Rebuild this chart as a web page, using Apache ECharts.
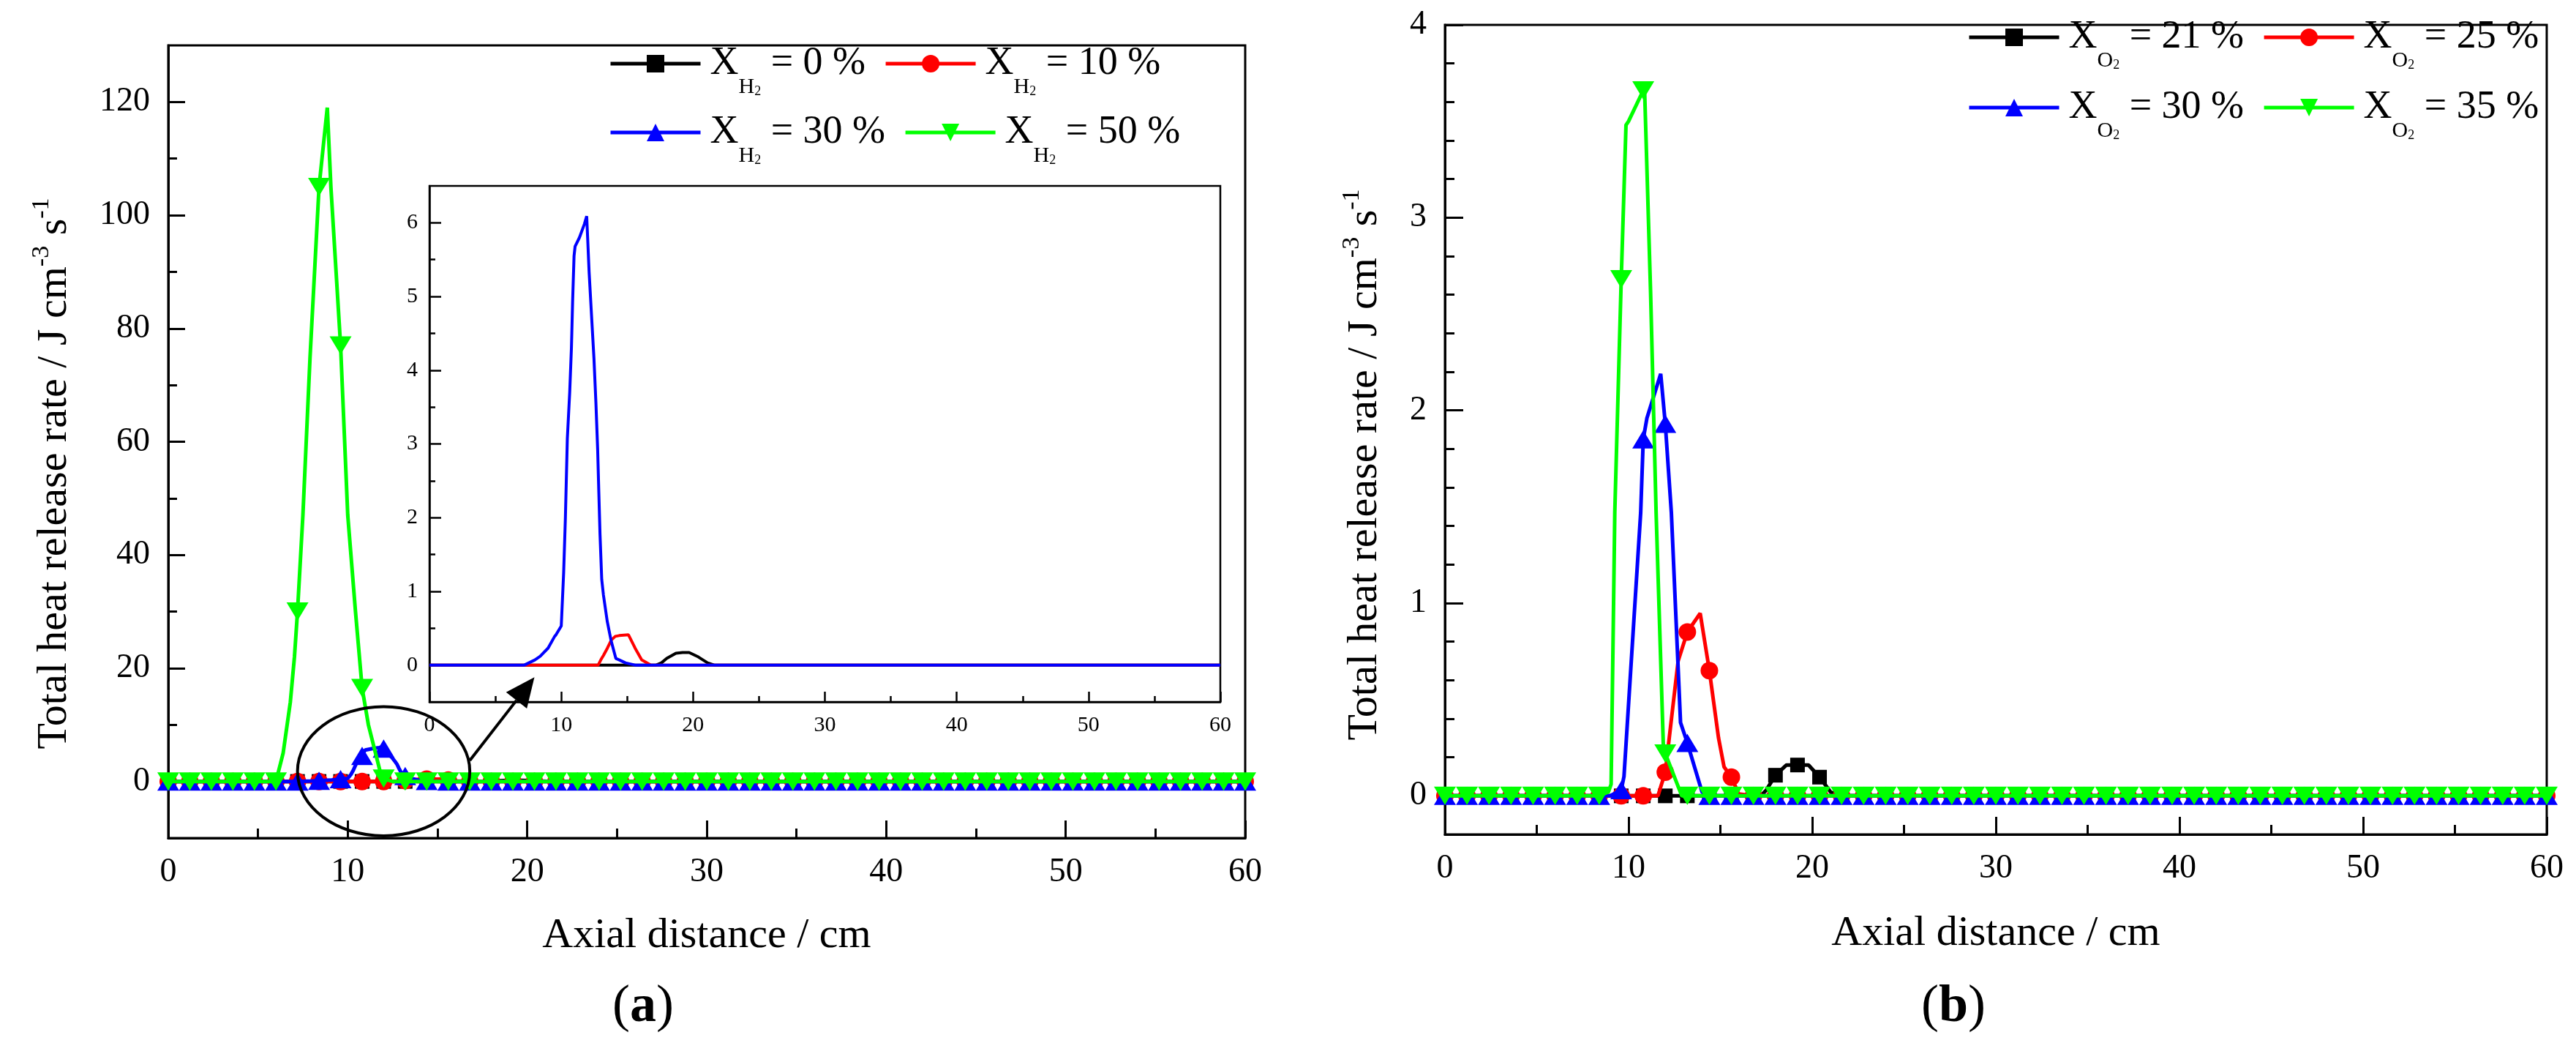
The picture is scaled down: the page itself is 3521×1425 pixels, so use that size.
<!DOCTYPE html>
<html>
<head>
<meta charset="utf-8">
<title>Total heat release rate</title>
<script src="https://cdn.jsdelivr.net/npm/echarts@6.0.0/dist/echarts.min.js"></script>
<style>
html, body { margin: 0; padding: 0; background: #fff; }
#chart { width: 3521px; height: 1425px; }
</style>
</head>
<body>
<div id="chart"></div>
<script>
const SERIF = "Liberation Serif";

// x positions of the plotted symbols (cm), shared by every curve
const markX = [
  0, 1.2, 2.4, 3.6, 4.8, 6, 7.2, 8.4, 9.6, 10.8,
  12, 13.2, 14.4, 15.6, 16.8, 18, 19.2, 20.4, 21.6, 22.8,
  24, 25.2, 26.4, 27.6, 28.8, 30, 31.2, 32.4, 33.6, 34.8,
  36, 37.2, 38.4, 39.6, 40.8, 42, 43.2, 44.4, 45.6, 46.8,
  48, 49.2, 50.4, 51.6, 52.8, 54, 55.2, 56.4, 57.6, 58.8,
  60
];

// (a) hydrogen addition: values at the symbols
const aH0Mark = [
  0, 0, 0, 0, 0, 0, 0, 0, 0, 0,
  0, 0, 0, 0, 0, 0.09, 0.17, 0.11, 0, 0,
  0, 0, 0, 0, 0, 0, 0, 0, 0, 0,
  0, 0, 0, 0, 0, 0, 0, 0, 0, 0,
  0, 0, 0, 0, 0, 0, 0, 0, 0, 0,
  0
];
const aH10Mark = [
  0, 0, 0, 0, 0, 0, 0, 0, 0, 0,
  0, 0.13, 0.4, 0.23, 0, 0, 0, 0, 0, 0,
  0, 0, 0, 0, 0, 0, 0, 0, 0, 0,
  0, 0, 0, 0, 0, 0, 0, 0, 0, 0,
  0, 0, 0, 0, 0, 0, 0, 0, 0, 0,
  0
];
const aH30Mark = [
  0, 0, 0, 0, 0, 0, 0, 0.12, 0.41, 4.5,
  5.8, 0.95, 0.07, 0, 0, 0, 0, 0, 0, 0,
  0, 0, 0, 0, 0, 0, 0, 0, 0, 0,
  0, 0, 0, 0, 0, 0, 0, 0, 0, 0,
  0, 0, 0, 0, 0, 0, 0, 0, 0, 0,
  0
];
const aH50Mark = [
  0, 0, 0, 0, 0, 0, 30, 105, 77, 16.5,
  0.5, 0, 0, 0, 0, 0, 0, 0, 0, 0,
  0, 0, 0, 0, 0, 0, 0, 0, 0, 0,
  0, 0, 0, 0, 0, 0, 0, 0, 0, 0,
  0, 0, 0, 0, 0, 0, 0, 0, 0, 0,
  0
];
// (a) profile points between the symbols [x, value]
const aH0Line = [[17.2, 0], [17.6, 0.03], [18.7, 0.16], [19.7, 0.17], [21.1, 0.03]];
const aH10Line = [[12.8, 0], [13.0, 0.07], [13.5, 0.23], [13.8, 0.34], [14.1, 0.39], [15.1, 0.41], [16.1, 0.07], [16.9, 0.01]];
const aH30Line = [
  [7.2, 0], [8.0, 0.07], [9.0, 0.23], [9.5, 0.39], [10.0, 0.53], [10.18, 1.25], [10.31, 1.98],
  [10.46, 3.07], [10.64, 3.7], [10.77, 4.3], [10.86, 4.93], [10.97, 5.55], [11.05, 5.68],
  [11.38, 5.8], [11.75, 5.98], [11.93, 6.09], [12.11, 5.34], [12.3, 4.73], [12.48, 4.16],
  [12.63, 3.55], [12.76, 2.93], [12.85, 2.34], [12.94, 1.77], [13.07, 1.16], [13.49, 0.59],
  [13.77, 0.34], [14.14, 0.09], [14.87, 0.03], [15.8, 0]
];
const aH50Line = [
  [6.4, 5], [6.8, 14], [7.03, 22], [7.5, 47], [7.9, 75], [8.86, 119], [9.06, 105],
  [10.0, 47], [10.43, 30], [11.15, 10], [11.8, 1.8], [12.5, 0]
];

// (b) oxygen enrichment: values at the symbols
const bO21Mark = [
  0, 0, 0, 0, 0, 0, 0, 0, 0, 0,
  0, 0, 0, 0, 0, 0.107, 0.16, 0.097, 0, 0,
  0, 0, 0, 0, 0, 0, 0, 0, 0, 0,
  0, 0, 0, 0, 0, 0, 0, 0, 0, 0,
  0, 0, 0, 0, 0, 0, 0, 0, 0, 0,
  0
];
const bO25Mark = [
  0, 0, 0, 0, 0, 0, 0, 0, 0, 0,
  0.123, 0.85, 0.65, 0.097, 0, 0, 0, 0, 0, 0,
  0, 0, 0, 0, 0, 0, 0, 0, 0, 0,
  0, 0, 0, 0, 0, 0, 0, 0, 0, 0,
  0, 0, 0, 0, 0, 0, 0, 0, 0, 0,
  0
];
const bO30Mark = [
  0, 0, 0, 0, 0, 0, 0, 0, 0.03, 1.85,
  1.93, 0.275, 0, 0, 0, 0, 0, 0, 0, 0,
  0, 0, 0, 0, 0, 0, 0, 0, 0, 0,
  0, 0, 0, 0, 0, 0, 0, 0, 0, 0,
  0, 0, 0, 0, 0, 0, 0, 0, 0, 0,
  0
];
const bO35Mark = [
  0, 0, 0, 0, 0, 0, 0, 0, 2.68, 3.66,
  0.22, 0, 0, 0, 0, 0, 0, 0, 0, 0,
  0, 0, 0, 0, 0, 0, 0, 0, 0, 0,
  0, 0, 0, 0, 0, 0, 0, 0, 0, 0,
  0, 0, 0, 0, 0, 0, 0, 0, 0, 0,
  0
];
const bO21Line = [[17.2, 0], [17.5, 0.03], [18.6, 0.16], [19.8, 0.16], [21.0, 0.02]];
const bO25Line = [[11.6, 0], [12.7, 0.7], [13.9, 0.947], [14.9, 0.3], [15.2, 0.15], [16.0, 0.01]];
const bO30Line = [[9.0, 0], [9.75, 0.1], [10.66, 1.47], [11.0, 1.96], [11.75, 2.19], [12.33, 1.47], [12.83, 0.38], [14.0, 0.02]];
const bO35Line = [[8.9, 0.02], [9.05, 0.06], [9.25, 1.47], [9.86, 3.48], [10.0, 3.5], [10.88, 3.64], [11.2, 2.61], [11.5, 1.47], [11.9, 0.24], [12.9, 0]];

// tick positions
const aYTicks = [0, 20, 40, 60, 80, 100, 120];
const aYMinor = [10, 30, 50, 70, 90, 110];
const inYTicks = [0, 1, 2, 3, 4, 5, 6];
const inYMinor = [0.5, 1.5, 2.5, 3.5, 4.5, 5.5];
const bYTicks = [0, 1, 2, 3, 4];
const bYMinor = [0.2, 0.4, 0.6, 0.8, 1.2, 1.4, 1.6, 1.8, 2.2, 2.4, 2.6, 2.8, 3.2, 3.4, 3.6, 3.8];

const aLabels = ["0 %", "10 %", "30 %", "50 %"];
const bLabels = ["21 %", "25 %", "30 %", "35 %"];

const symbolSizes = { rect: [20, 20], circle: [24, 24], triangle: [30, 25] };

// symbols + profile merged into one line, symbols only where the picture has them
function curve(marks, line, noMarks) {
  const pts = markX.map((x, i) => noMarks ? { value: [x, marks[i]], symbol: "none" } : { value: [x, marks[i]] })
    .concat(line.map(p => ({ value: p, symbol: "none" })));
  return pts.sort((p, q) => p.value[0] - q.value[0]);
}

function mainLine(name, data, color, symbol, rot, xi, yi, z) {
  return {
    type: "line", name, data, xAxisIndex: xi, yAxisIndex: yi, z,
    symbol, symbolRotate: rot, symbolSize: symbolSizes[symbol],
    showAllSymbol: true, color,
    lineStyle: { color, width: 5 },
    itemStyle: { color },
    emphasis: { disabled: true }
  };
}
function insetLine(data, color, z) {
  return {
    type: "line", data, xAxisIndex: 1, yAxisIndex: 2, z, symbol: "none",
    showAllSymbol: true, color,
    lineStyle: { color, width: 4 }, itemStyle: { color },
    emphasis: { disabled: true }
  };
}

function xAxisOf(grid, big) {
  return {
    gridIndex: grid, type: "value", min: 0, max: 60, interval: 10,
    axisLine: { onZero: false, lineStyle: { color: "#000", width: big ? 3 : 2.5 } },
    axisTick: { inside: true, length: big ? 24 : 14, lineStyle: { color: "#000", width: big ? 3 : 2.5 } },
    minorTick: { show: true, splitNumber: 2, length: big ? 13 : 8, lineStyle: { color: "#000", width: big ? 3 : 2.5 } },
    splitLine: { show: false }, minorSplitLine: { show: false },
    axisLabel: { color: "#000", fontFamily: SERIF, fontSize: big ? 46 : 30, margin: big ? 24 : 17 }
  };
}
function yAxisOf(grid, min, max, ticks, big, len) {
  return {
    gridIndex: grid, type: "value", position: "left", min, max,
    axisLine: { onZero: false, lineStyle: { color: "#000", width: big ? 3 : 2.5 } },
    axisTick: { inside: true, length: len, customValues: ticks, lineStyle: { color: "#000", width: big ? 3 : 2.5 } },
    splitLine: { show: false },
    axisLabel: { customValues: ticks, color: "#000", fontFamily: SERIF, fontSize: big ? 46 : 30, margin: big ? 25 : 16 }
  };
}
function yMinorOf(grid, min, max, ticks, big, len) {
  return {
    gridIndex: grid, type: "value", position: "left", min, max,
    axisLine: { show: false },
    axisTick: { inside: true, length: len, customValues: ticks, lineStyle: { color: "#000", width: big ? 3 : 2.5 } },
    splitLine: { show: false },
    axisLabel: { show: false }
  };
}

const legendRich = {
  x0: { fontFamily: SERIF, fontSize: 54, lineHeight: 94, color: "#000", padding: [0, 0, 0, 8] },
  x: { fontFamily: SERIF, fontSize: 54, lineHeight: 94, color: "#000" },
  s: { fontFamily: SERIF, fontSize: 30, lineHeight: 30, verticalAlign: "bottom", color: "#000" },
  n: { fontFamily: SERIF, fontSize: 18, lineHeight: 2, verticalAlign: "bottom", color: "#000" }
};
const legendText = {};
["aH0", "aH10", "aH30", "aH50"].forEach((k, i) => { legendText[k] = "{x0|X}{s|H}{n|2}{x| = " + aLabels[i] + "}"; });
["bO21", "bO25", "bO30", "bO35"].forEach((k, i) => { legendText[k] = "{x0|X}{s|O}{n|2}{x| = " + bLabels[i] + "}"; });

function legendRow(names, left, top) {
  return {
    data: names, left, top, orient: "horizontal", padding: 0,
    itemWidth: 123, itemHeight: 30, itemGap: 25, selectedMode: false,
    lineStyle: { width: 5 },
    formatter: n => legendText[n],
    textStyle: { color: "#000", fontFamily: SERIF, rich: legendRich }
  };
}

const chart = echarts.init(document.getElementById("chart"), null, { renderer: "canvas" });

chart.setOption({
  backgroundColor: "#fff",
  animation: false,
  grid: [
    { left: 230, top: 62, width: 1472, height: 1083, show: true, borderColor: "#000", borderWidth: 3, backgroundColor: "transparent", containLabel: false },
    { left: 587, top: 254, width: 1081, height: 705, show: true, borderColor: "#000", borderWidth: 2.5, backgroundColor: "#fff", containLabel: false, z: 3 },
    { left: 1975, top: 34, width: 1506, height: 1106, show: true, borderColor: "#000", borderWidth: 3, backgroundColor: "transparent", containLabel: false }
  ],
  xAxis: [
    Object.assign(xAxisOf(0, true), { name: "Axial distance / cm", nameLocation: "middle", nameGap: 105, nameTextStyle: { color: "#000", fontFamily: SERIF, fontSize: 58 } }),
    Object.assign(xAxisOf(1, false), { z: 4 }),
    Object.assign(xAxisOf(2, true), { name: "Axial distance / cm", nameLocation: "middle", nameGap: 107, nameTextStyle: { color: "#000", fontFamily: SERIF, fontSize: 58 } })
  ],
  yAxis: [
    yAxisOf(0, -10, 130, aYTicks, true, 23),
    yMinorOf(0, -10, 130, aYMinor, true, 12),
    Object.assign(yAxisOf(1, -0.5, 6.5, inYTicks, false, 16), { z: 4 }),
    Object.assign(yMinorOf(1, -0.5, 6.5, inYMinor, false, 8), { z: 4 }),
    yAxisOf(2, -0.2, 4, bYTicks, true, 25),
    yMinorOf(2, -0.2, 4, bYMinor, true, 13)
  ],
  legend: [
    legendRow(["aH0", "aH10"], 832, 60),
    legendRow(["aH30", "aH50"], 832, 154),
    legendRow(["bO21", "bO25"], 2689, 24),
    legendRow(["bO30", "bO35"], 2689, 120)
  ],
  series: [
    mainLine("aH0", curve(aH0Mark, aH0Line), "#000000", "rect", 0, 0, 0, 2),
    mainLine("aH10", curve(aH10Mark, aH10Line), "#ff0000", "circle", 0, 0, 0, 3),
    mainLine("aH30", curve(aH30Mark, aH30Line), "#0000ff", "triangle", 0, 0, 0, 4),
    mainLine("aH50", curve(aH50Mark, aH50Line), "#00ff00", "triangle", 180, 0, 0, 5),
    insetLine(curve(aH0Mark, aH0Line, true), "#000000", 6),
    insetLine(curve(aH10Mark, aH10Line, true), "#ff0000", 7),
    insetLine(curve(aH30Mark, aH30Line, true), "#0000ff", 8),
    mainLine("bO21", curve(bO21Mark, bO21Line), "#000000", "rect", 0, 2, 4, 2),
    mainLine("bO25", curve(bO25Mark, bO25Line), "#ff0000", "circle", 0, 2, 4, 3),
    mainLine("bO30", curve(bO30Mark, bO30Line), "#0000ff", "triangle", 0, 2, 4, 4),
    mainLine("bO35", curve(bO35Mark, bO35Line), "#00ff00", "triangle", 180, 2, 4, 5)
  ]
});

// annotations: zoom ellipse and arrow in (a), axis titles, panel letters
const px = p => chart.convertToPixel({ seriesIndex: 0 }, p);
const c = px([12.0, 1.8]);
const rx = px([16.8, 1.8])[0] - c[0];
const ry = c[1] - px([12.0, 13.2])[1];
const a0 = px([16.8, 3.7]);
const a1 = px([20.4, 18.4]);
const ang = Math.atan2(a1[1] - a0[1], a1[0] - a0[0]);
const headLen = 40, headW = 18;
const base = [a1[0] - headLen * Math.cos(ang), a1[1] - headLen * Math.sin(ang)];
const head = [
  a1,
  [base[0] + headW * Math.sin(ang), base[1] - headW * Math.cos(ang)],
  [base[0] - headW * Math.sin(ang), base[1] + headW * Math.cos(ang)]
];

const yTitle = "{t|Total heat release rate / J cm}{p|-3}{t| s}{p|-1}";
const titleRich = {
  t: { fontFamily: SERIF, fontSize: 58, lineHeight: 70, color: "#000" },
  p: { fontFamily: SERIF, fontSize: 34, lineHeight: 26, verticalAlign: "top", color: "#000" }
};
const panelRich = {
  p: { fontFamily: SERIF, fontSize: 72, color: "#000" },
  b: { fontFamily: SERIF, fontSize: 72, fontWeight: "bold", color: "#000" }
};

chart.setOption({
  graphic: [
    { type: "ellipse", z: 20, shape: { cx: c[0], cy: c[1], rx, ry }, style: { fill: "none", stroke: "#000", lineWidth: 4 } },
    { type: "line", z: 20, shape: { x1: a0[0], y1: a0[1], x2: base[0], y2: base[1] }, style: { stroke: "#000", lineWidth: 4 } },
    { type: "polygon", z: 20, shape: { points: head }, style: { fill: "#000" } },
    { type: "text", z: 20, x: 75, y: 647, rotation: Math.PI / 2, style: { text: yTitle, rich: titleRich, align: "center", verticalAlign: "middle" } },
    { type: "text", z: 20, x: 1866, y: 635, rotation: Math.PI / 2, style: { text: yTitle, rich: titleRich, align: "center", verticalAlign: "middle" } },
    { type: "text", z: 20, x: 879, y: 1376, style: { text: "{p|(}{b|a}{p|)}", rich: panelRich, align: "center", verticalAlign: "middle" } },
    { type: "text", z: 20, x: 2670, y: 1376, style: { text: "{p|(}{b|b}{p|)}", rich: panelRich, align: "center", verticalAlign: "middle" } }
  ]
});
</script>
</body>
</html>
